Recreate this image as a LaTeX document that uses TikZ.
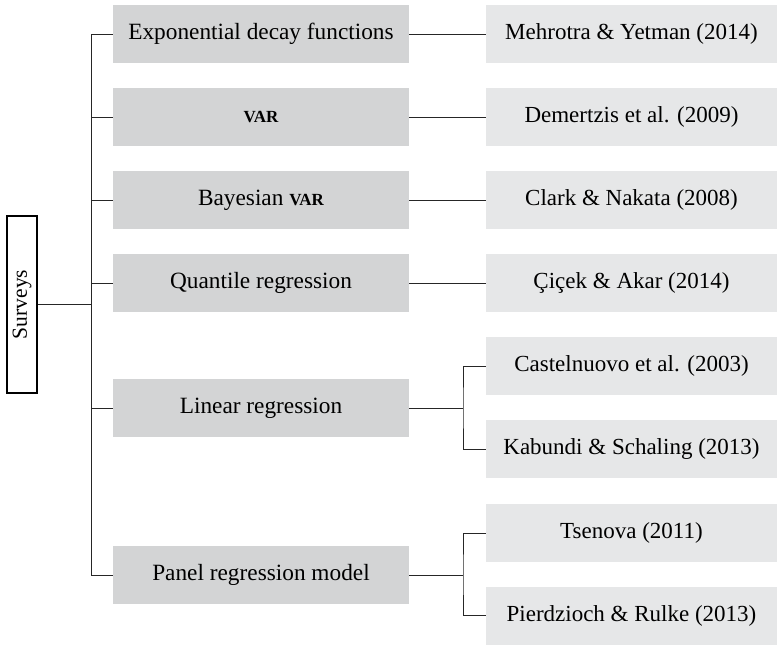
\documentclass[tikz,border=0pt]{standalone}
\usepackage{fontspec}
\setmainfont{Liberation Serif}
\begin{document}
\begin{tikzpicture}[x=1pt,y=-1pt,
  midbox/.style={fill=midgrey, minimum width=296pt, minimum height=58pt, inner sep=0pt, font=\fontsize{23.3}{26}\selectfont},
  refbox/.style={fill=refgrey, minimum width=291pt, minimum height=58pt, inner sep=0pt, font=\fontsize{23}{26}\selectfont},
  conn/.style={draw=black!85, line width=1pt}]
\definecolor{midgrey}{HTML}{D3D4D5}
\definecolor{refgrey}{HTML}{E6E7E8}
\useasboundingbox (0,0) rectangle (777,645);
\newcommand{\smcap}[1]{{\fontsize{17}{20}\selectfont\bfseries #1}}
% Root
\node[draw=black, line width=1.2pt, fill=white, minimum width=30pt, minimum height=177pt, inner sep=0pt] (surveys) at (22,304.5) {};
\node[rotate=90, font=\fontsize{21.5}{24}\selectfont] (surveyslabel) at (surveys.center) {Surveys};
% Methods
\node[midbox] (m1) at (261,34) {Exponential decay functions};
\node[midbox] (m2) at (261,117) {\smcap{VAR}};
\node[midbox] (m3) at (261,200) {Bayesian \smcap{VAR}};
\node[midbox] (m4) at (261,283) {Quantile regression};
\node[midbox] (m5) at (261,408) {Linear regression};
\node[midbox] (m6) at (261,575) {Panel regression model};
% References
\node[refbox] (r1) at (631.5,34) {Mehrotra \& Yetman (2014)};
\node[refbox] (r2) at (631.5,117) {Demertzis et al. (2009)};
\node[refbox] (r3) at (631.5,200) {Clark \& Nakata (2008)};
\node[refbox] (r4) at (631.5,283) {Çiçek \& Akar (2014)};
\node[refbox] (r5a) at (631.5,366) {Castelnuovo et al. (2003)};
\node[refbox] (r5b) at (631.5,449) {Kabundi \& Schaling (2013)};
\node[refbox] (r6a) at (631.5,533) {Tsenova (2011)};
\node[refbox] (r6b) at (631.5,615.5) {Pierdzioch \& Rulke (2013)};
% Trunk
\coordinate (tt) at (91,34);
\coordinate (tb) at (91,575);
\draw[conn] (tt) -- (tb);
\draw[conn] (surveys.east) -- (surveys.east -| tt);
\foreach \m in {m1,m2,m3,m4,m5,m6} {\draw[conn] (\m.west) -- (\m.west -| tt);}
% Direct links
\foreach \m/\r in {m1/r1,m2/r2,m3/r3,m4/r4} {\draw[conn] (\m.east) -- (\r.west);}
% Split links
\coordinate (s5) at (463,408);
\coordinate (s6) at (463,575);
\draw[conn] (m5.east) -- (s5);
\draw[conn] (r5a.west) -| (s5) |- (r5b.west);
\draw[conn] (m6.east) -- (s6);
\draw[conn] (r6a.west) -| (s6) |- (r6b.west);
\end{tikzpicture}
\end{document}
